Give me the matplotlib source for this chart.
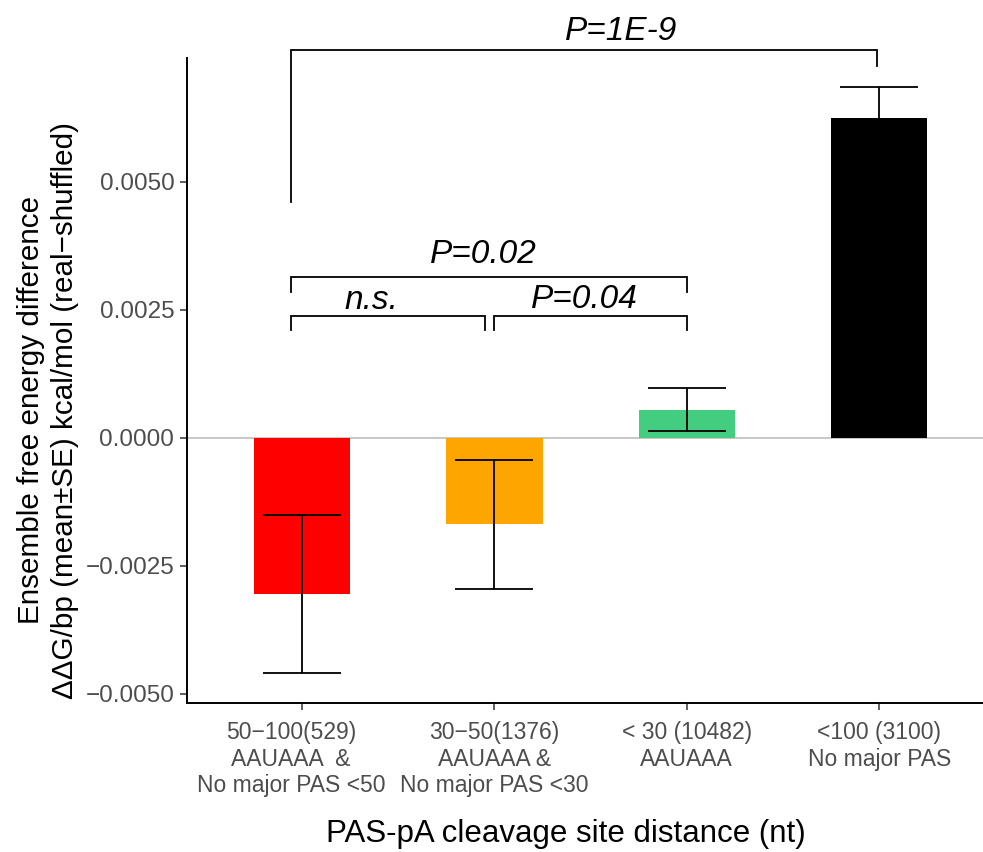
import numpy as np
import matplotlib
matplotlib.use("Agg")
import matplotlib.pyplot as plt
import matplotlib.transforms as mtransforms

plt.rcParams['font.family'] = ['Liberation Sans', 'DejaVu Sans']

# groups (bar labels), means and standard errors
categories = ["50\u2212100(529)\nAAUAAA  &\nNo major PAS <50",
              "30\u221250(1376)\nAAUAAA &\nNo major PAS <30",
              "< 30 (10482)\nAAUAAA",
              "<100 (3100)\nNo major PAS"]
means = [-0.00305, -0.00169, 0.00055, 0.00625]
errors = [0.00155, 0.00126, 0.00042, 0.00061]
colors = ["#FF0000", "#FFA500", "#43CD80", "#000000"]

# significance brackets: (x left, x right, y, left tick end, right tick end, label)
brackets = [
    (0.94, 3.99, 0.00758, 0.00461, 0.00727, "P=1E-9"),
    (0.94, 3.00, 0.00314, 0.00285, 0.00285, "P=0.02"),
    (0.94, 1.95, 0.00238, 0.00211, 0.00211, "n.s."),
    (2.00, 3.00, 0.00238, 0.00211, 0.00211, "P=0.04"),
]
label_pos = [(2.656, 0.00777), (1.94, 0.00342), (1.36, 0.00251), (2.47, 0.00254)]

fig = plt.figure(figsize=(9.83, 8.52), dpi=100)
ax = fig.add_axes([0.19, 0.175, 0.81, 0.757])

x = np.arange(1, len(means) + 1)
ax.axhline(0, color="#BEBEBE", lw=1.2, zorder=1)
ax.bar(x, means, width=0.5, color=colors, zorder=2)
ax.errorbar(x, means, yerr=errors, fmt="none", ecolor="black",
            elinewidth=1.3, capsize=28, capthick=1.3, zorder=3)

for (x0, x1, y, yl, yr, txt), (tx, ty) in zip(brackets, label_pos):
    ax.plot([x0, x0, x1, x1], [yl, y, y, yr], color="black", lw=1.3,
            clip_on=False, solid_joinstyle="miter")
    ax.text(tx, ty, txt, fontsize=24, style="italic", ha="center",
            va="baseline", clip_on=False)

ax.set_xlim(0.4, 4.54)
ax.set_ylim(-0.00518, 0.00742)
ax.set_xticks(x)
ax.set_xticklabels(categories, fontsize=16.5, color="#4D4D4D", linespacing=1.2)
ax.set_yticks([-0.005, -0.0025, 0, 0.0025, 0.005])
ax.set_yticklabels(["\u22120.0050", "\u22120.0025", "0.0000", "0.0025", "0.0050"],
                   fontsize=17.5, color="#4D4D4D")
ax.tick_params(axis="both", length=5, width=1.1, color="#333333", pad=4)
ax.tick_params(axis="x", pad=8)

# first group label sits a little left of its tick in the original
first = ax.get_xticklabels()[0]
first.set_transform(first.get_transform() +
                    mtransforms.ScaledTranslation(-0.11, 0, fig.dpi_scale_trans))

for side in ["top", "right"]:
    ax.spines[side].set_visible(False)
for side in ["left", "bottom"]:
    ax.spines[side].set_linewidth(1.4)

ax.set_ylabel("Ensemble free energy difference\n"
              "\u0394\u0394G/bp (mean\u00b1SE) kcal/mol (real\u2212shuffled)",
              fontsize=21.3, linespacing=1.3)
ax.yaxis.set_label_coords(-0.135, 0.454)
ax.set_xlabel("PAS-pA cleavage site distance (nt)", fontsize=22.5)
ax.xaxis.set_label_coords(0.476, -0.18)

fig.savefig("out.png", dpi=100)
